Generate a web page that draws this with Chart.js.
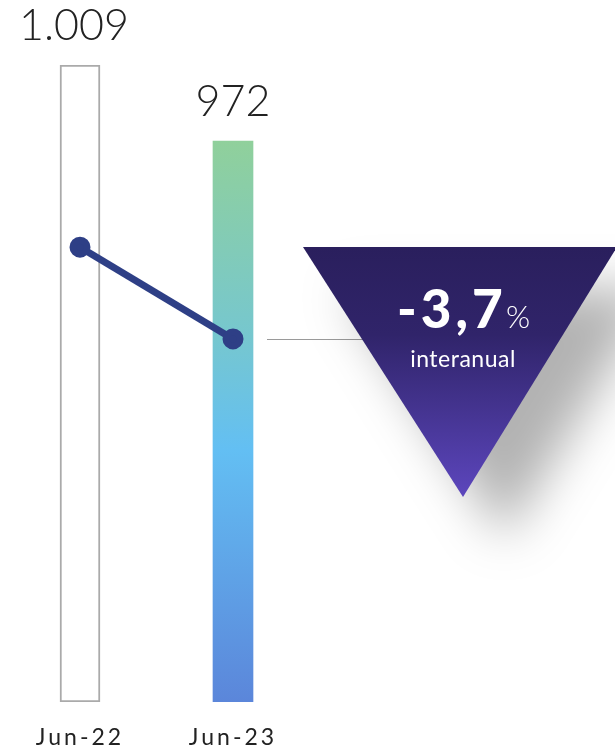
<!DOCTYPE html>
<html>
<head>
<meta charset="utf-8">
<script src="https://cdn.jsdelivr.net/npm/chart.js@4.4.1/dist/chart.umd.min.js"></script>
<style>
  html, body { margin: 0; padding: 0; background: #fff; }
  #wrap { width: 615px; height: 747px; position: relative; }
</style>
</head>
<body>
<div id="wrap"><canvas id="chart"></canvas></div>
<script>
// data
const categories = ['Jun-22', 'Jun-23'];
const barValues = [1009, 972];
const valueLabels = ['1.009', '972'];
const lineValues = [71.4, 57.0];
const changeText = '-3,7';
const changeUnit = '%';
const changeCaption = 'interanual';

const yMin = 698.9;

function barFill(context) {
    const chart = context.chart;
    const area = chart.chartArea;
    if (!area) return '#fff';
    if (context.dataIndex === 0) return '#ffffff';
    const g = chart.ctx.createLinearGradient(0, 141, 0, area.bottom);
    g.addColorStop(0, '#90d09b');
    g.addColorStop(0.35, '#76c7cf');
    g.addColorStop(0.55, '#63bff3');
    g.addColorStop(1, '#5b86da');
    return g;
}

// letter spacing for the axis labels
const spacing = {
    id: 'spacing',
    beforeDraw(chart) { chart.ctx.letterSpacing = '3px'; },
    beforeDatasetsDraw(chart) { chart.ctx.letterSpacing = '0px'; }
};

// triangle + value labels
const extras = {
    id: 'extras',
    afterDatasetsDraw(chart) {
        const ctx = chart.ctx;
        const meta = chart.getDatasetMeta(0);
        ctx.save();
        // value labels above bars
        ctx.fillStyle = '#222';
        ctx.font = '300 43px Lato';
        ctx.textAlign = 'center';
        ctx.textBaseline = 'alphabetic';
        meta.data.forEach((bar, i) => {
            ctx.fillText(valueLabels[i], bar.x - (i === 0 ? 6 : 0), bar.y - 25);
        });

        // connector line
        const lineMeta = chart.getDatasetMeta(1);
        const p = lineMeta.data[1];
        ctx.strokeStyle = '#9a9a9a';
        ctx.lineWidth = 1;
        ctx.beginPath();
        ctx.moveTo(267, Math.round(p.y) + 0.5);
        ctx.lineTo(380, Math.round(p.y) + 0.5);
        ctx.stroke();

        // triangle with shadow
        ctx.save();
        ctx.shadowColor = 'rgba(0,0,0,0.3)';
        ctx.shadowBlur = 50;
        ctx.shadowOffsetX = 42;
        ctx.shadowOffsetY = 42;
        const g = ctx.createLinearGradient(0, 247, 0, 497);
        g.addColorStop(0, '#2a1f5d');
        g.addColorStop(0.35, '#30246a');
        g.addColorStop(1, '#5c46bd');
        ctx.fillStyle = g;
        ctx.beginPath();
        ctx.moveTo(303, 247);
        ctx.lineTo(617, 247);
        ctx.lineTo(463, 497);
        ctx.closePath();
        ctx.fill();
        ctx.restore();

        // change text
        ctx.fillStyle = '#fff';
        ctx.font = '900 53px Lato';
        ctx.letterSpacing = '4px';
        ctx.textAlign = 'left';
        ctx.fillText(changeText, 397, 328);
        ctx.letterSpacing = '0px';
        ctx.font = '300 31px Lato';
        ctx.fillText(changeUnit, 506, 328);
        ctx.font = '23px Lato';
        ctx.letterSpacing = '0.5px';
        ctx.textAlign = 'center';
        ctx.fillText(changeCaption, 463, 367);
        ctx.restore();
    }
};

new Chart(document.getElementById('chart'), {
    data: {
        labels: categories,
        datasets: [
            {
                type: 'bar',
                data: barValues,
                base: yMin,
                backgroundColor: barFill,
                borderColor: ['#aaaaaa', 'rgba(0,0,0,0)'],
                borderWidth: [2, 0],
                borderSkipped: false,
                barThickness: 40,
                yAxisID: 'y',
                order: 2
            },
            {
                type: 'line',
                data: lineValues,
                borderColor: '#2e3f86',
                backgroundColor: '#2e3f86',
                borderWidth: 7,
                pointRadius: 7,
                pointHoverRadius: 7,
                yAxisID: 'y2',
                order: 1
            }
        ]
    },
    options: {
        responsive: true,
        maintainAspectRatio: false,
        animation: false,
        layout: { autoPadding: false, padding: { top: 65, left: 3.5, right: 305.5, bottom: 0 } },
        plugins: { legend: { display: false }, tooltip: { enabled: false } },
        scales: {
            x: {
                grid: { display: false, drawTicks: false },
                border: { display: false },
                ticks: { color: '#222', font: { family: 'Lato', size: 23 }, padding: 22 },
                afterFit(scale) {
                    scale.height = 45;
                    scale.paddingLeft = 0;
                    scale.paddingRight = 0;
                }
            },
            y: { display: false, min: yMin, max: 1009 },
            y2: { display: false, min: 0, max: 100 }
        }
    },
    plugins: [spacing, extras]
});
</script>
</body>
</html>
